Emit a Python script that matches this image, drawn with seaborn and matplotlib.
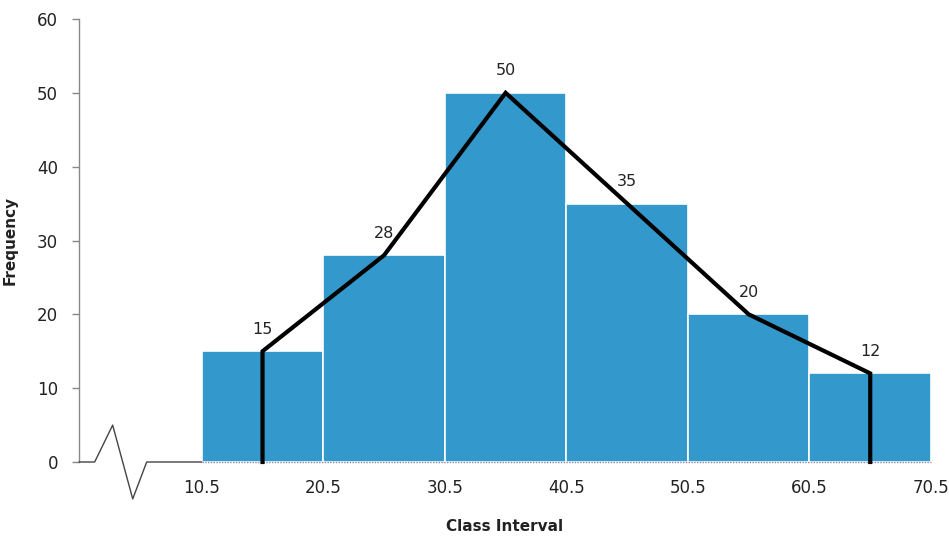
import matplotlib
matplotlib.use("Agg")
import matplotlib.pyplot as plt
import seaborn as sns
import numpy as np
import pandas as pd

# Data
class_edges = [10.5, 20.5, 30.5, 40.5, 50.5, 60.5, 70.5]
class_mids = [15.5, 25.5, 35.5, 45.5, 55.5, 65.5]
frequencies = [15, 28, 50, 35, 20, 12]
y_ticks = [0, 10, 20, 30, 40, 50, 60]

sns.set_theme(style="white")
plt.rcParams['font.family'] = ['DejaVu Sans']

fig = plt.figure(figsize=(9.49, 5.36), dpi=100)
ax = fig.add_axes([79/949, 74/536, 852/949, 443/536])

df = pd.DataFrame({"mid": class_mids, "freq": frequencies})
sns.histplot(data=df, x="mid", weights="freq", bins=class_edges, ax=ax,
             color="#3399cc", alpha=1.0, edgecolor="white", linewidth=1.2, zorder=2)

# frequency polygon with closing verticals
poly = pd.DataFrame({
    "x": [class_mids[0]] + class_mids + [class_mids[-1]],
    "y": [0] + frequencies + [0],
})
sns.lineplot(data=poly, x="x", y="y", sort=False, estimator=None, ax=ax,
             color="black", linewidth=3.0, zorder=4, clip_on=False)
for ln in ax.lines:
    ln.set_solid_capstyle("projecting")
    ln.set_solid_joinstyle("miter")

for xm, f in zip(class_mids, frequencies):
    ax.annotate(str(f), (xm, f), xytext=(0, 16), textcoords="offset points",
                ha="center", va="center", fontsize=11.5, color="#222222")

ax.set_xlim(0.4, 70.5)
ax.set_ylim(0, 60)
ax.set_yticks(y_ticks)
ax.set_xticks(class_edges)
ax.set_xticklabels([str(e) for e in class_edges])

for s in ["top", "right", "bottom"]:
    ax.spines[s].set_visible(False)
ax.spines["left"].set_color("#888888")
ax.spines["left"].set_linewidth(1.0)

ax.tick_params(axis="y", length=5, width=1, color="#888888", pad=10,
               labelsize=12, labelcolor="#222222", left=True)
ax.tick_params(axis="x", length=0, pad=12, labelsize=12, labelcolor="#222222")

ax.set_xlabel("Class Interval", fontsize=11, fontweight="bold", color="#222222")
ax.set_ylabel("Frequency", fontsize=11, fontweight="bold", color="#222222")
ax.xaxis.set_label_coords(0.5, -0.128)
ax.yaxis.set_label_coords(-0.0716, 0.5)

# axis line with break symbol
ax.plot([0.4, 1.69, 3.17, 4.82, 5.97, 10.5], [0, 0, 5, -5, 0, 0],
        color="#444444", linewidth=1.0, clip_on=False, zorder=3)
ax.plot([10.5, 70.5], [0, 0], color="#8888aa", linewidth=1.0,
        linestyle=(0, (1, 1)), clip_on=False, zorder=3)

ax.grid(False)
fig.savefig("out.png", dpi=100, facecolor="white")
